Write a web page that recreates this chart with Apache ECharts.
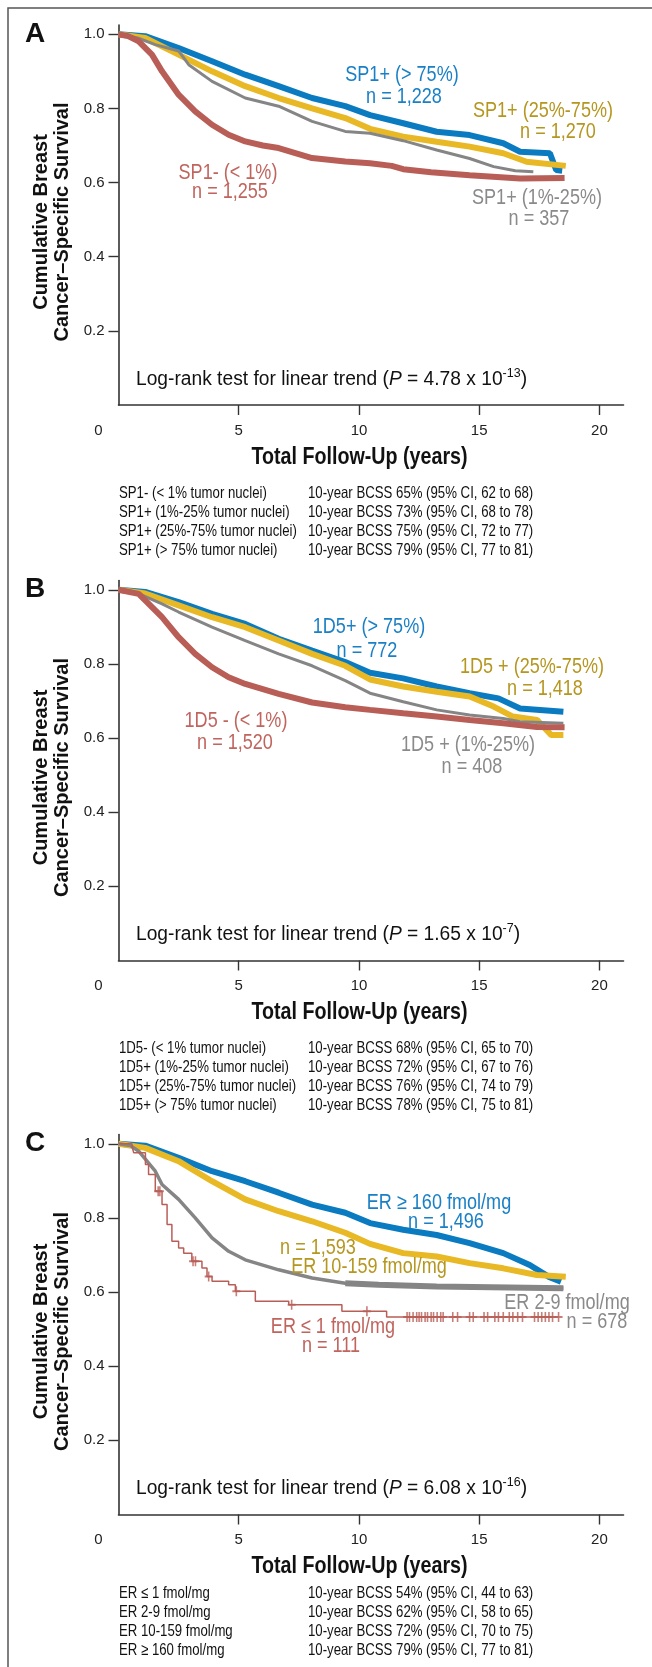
<!DOCTYPE html>
<html>
<head>
<meta charset="utf-8">
<script src="https://cdn.jsdelivr.net/npm/echarts@6/dist/echarts.min.js"></script>
<style>
  html, body { margin: 0; padding: 0; background: #fff; }
  #main { width: 652px; height: 1667px; }
</style>
</head>
<body>
<div id="main"></div>
<script>
// Kaplan-Meier curves: [years, cumulative survival]
// panel A - SP1
const spNeg = [[0, 1], [0.4, 0.995], [0.84, 0.981], [1.39, 0.945], [1.81, 0.9], [2.5, 0.837], [3.19, 0.792], [3.89, 0.756], [4.58, 0.729], [5.27, 0.711], [6.0, 0.7], [6.66, 0.693], [8.05, 0.666], [9.43, 0.657], [10.46, 0.652], [11.36, 0.645], [11.84, 0.636], [13.0, 0.628], [14.6, 0.62], [16.7, 0.611], [18.55, 0.612]]
const spLow = [[0, 1], [0.8, 0.99], [1.53, 0.972], [2.5, 0.955], [2.92, 0.918], [3.89, 0.873], [5.27, 0.828], [6.66, 0.806], [8.05, 0.765], [9.43, 0.738], [10.46, 0.733], [11.84, 0.713], [13.23, 0.688], [14.6, 0.665], [15.6, 0.643], [16.5, 0.632], [17.25, 0.629]]
const spMid = [[0, 1], [1.11, 0.99], [2.5, 0.945], [3.89, 0.9], [5.27, 0.86], [6.66, 0.828], [8.05, 0.8], [9.43, 0.774], [10.46, 0.745], [11.84, 0.724], [13.23, 0.71], [14.6, 0.697], [16.0, 0.679], [16.97, 0.656], [18.6, 0.645]]
const spHigh = [[0, 1], [1.11, 0.995], [2.5, 0.963], [3.89, 0.927], [5.27, 0.891], [6.66, 0.86], [8.05, 0.828], [9.43, 0.806], [10.46, 0.782], [11.84, 0.76], [13.23, 0.737], [14.6, 0.728], [16.0, 0.706], [16.7, 0.683], [17.94, 0.679], [18.2, 0.634], [18.45, 0.632]]
// panel B - 1D5
const d5Neg = [[0, 1], [0.84, 0.989], [1.81, 0.926], [2.5, 0.872], [3.19, 0.827], [3.89, 0.791], [4.58, 0.764], [5.27, 0.746], [6.66, 0.719], [8.05, 0.696], [9.43, 0.683], [10.46, 0.676], [11.84, 0.667], [13.23, 0.658], [14.6, 0.649], [16.0, 0.64], [17.4, 0.63], [18.55, 0.629]]
const d5Low = [[0, 1], [1.0, 0.985], [1.81, 0.962], [2.5, 0.94], [3.89, 0.899], [5.27, 0.863], [6.66, 0.827], [8.05, 0.795], [9.43, 0.755], [10.46, 0.721], [11.84, 0.698], [13.23, 0.676], [14.6, 0.662], [16.0, 0.653], [16.7, 0.644], [18.5, 0.64]]
const d5Mid = [[0, 1], [1.11, 0.99], [2.5, 0.958], [3.89, 0.926], [5.27, 0.899], [6.66, 0.863], [8.05, 0.827], [9.43, 0.795], [10.46, 0.758], [11.84, 0.739], [13.23, 0.725], [14.6, 0.712], [15.6, 0.685], [16.4, 0.658], [17.4, 0.649], [18.0, 0.608], [18.5, 0.608]]
const d5High = [[0, 1], [1.11, 0.994], [2.5, 0.967], [3.89, 0.935], [5.27, 0.908], [6.66, 0.868], [8.05, 0.836], [9.43, 0.805], [10.46, 0.776], [11.84, 0.761], [13.23, 0.739], [14.6, 0.721], [15.8, 0.707], [16.7, 0.68], [18.5, 0.671]]
// panel C - ER fmol/mg
const erNeg = [[0, 1], [0.56, 0.994], [0.63, 0.976], [1.12, 0.944], [1.25, 0.917], [1.53, 0.872], [1.81, 0.836], [2.02, 0.782], [2.22, 0.737], [2.5, 0.719], [2.71, 0.705], [3.05, 0.683], [3.47, 0.665], [3.68, 0.642], [3.89, 0.629], [4.58, 0.62], [4.86, 0.602], [5.69, 0.575], [7.08, 0.566], [9.29, 0.548], [11.15, 0.533], [18.3, 0.533]]
const erNegCensor = [[1.65, 0.872], [1.72, 0.872], [3.1, 0.683], [3.2, 0.683], [3.75, 0.642], [4.9, 0.602], [7.2, 0.566], [10.33, 0.548], [12.0, 0.533], [12.1, 0.533], [12.25, 0.533], [12.4, 0.533], [12.5, 0.533], [12.6, 0.533], [12.75, 0.533], [12.85, 0.533], [13.0, 0.533], [13.1, 0.533], [13.25, 0.533], [13.4, 0.533], [13.5, 0.533], [13.9, 0.533], [14.1, 0.533], [14.6, 0.533], [14.75, 0.533], [15.2, 0.533], [15.35, 0.533], [15.65, 0.533], [15.8, 0.533], [16.0, 0.533], [16.25, 0.533], [16.4, 0.533], [16.6, 0.533], [16.8, 0.533], [17.3, 0.533], [17.45, 0.533], [17.6, 0.533], [17.75, 0.533], [17.9, 0.533], [18.05, 0.533], [18.3, 0.533]]
const erLow = [[0, 1], [0.5, 0.995], [0.84, 0.98], [1.53, 0.926], [1.81, 0.89], [2.5, 0.85], [3.19, 0.8], [3.89, 0.746], [4.58, 0.71], [5.27, 0.687], [6.66, 0.66], [8.05, 0.638], [9.43, 0.624], [10.82, 0.62], [13.23, 0.615], [18.5, 0.61]]
const erMid = [[0, 1], [1.11, 0.989], [2.5, 0.953], [3.19, 0.926], [3.89, 0.899], [5.27, 0.85], [6.66, 0.818], [8.05, 0.791], [9.43, 0.76], [10.46, 0.73], [11.84, 0.705], [13.23, 0.696], [14.6, 0.678], [16.0, 0.664], [17.4, 0.646], [18.6, 0.641]]
const erHigh = [[0, 1], [1.11, 0.995], [2.5, 0.962], [3.89, 0.926], [5.27, 0.899], [6.66, 0.868], [8.05, 0.836], [9.43, 0.814], [10.46, 0.786], [11.84, 0.768], [13.23, 0.754], [14.6, 0.732], [16.0, 0.705], [17.1, 0.673], [17.9, 0.641], [18.4, 0.628]]

const yTicks = [0.2, 0.4, 0.6, 0.8, 1.0]
const xTicks = [5, 10, 15, 20]
const xLabels = [0, 5, 10, 15, 20]

const statsA = [
  ['SP1- (< 1% tumor nuclei)', '10-year BCSS 65% (95% CI, 62 to 68)'],
  ['SP1+ (1%-25% tumor nuclei)', '10-year BCSS 73% (95% CI, 68 to 78)'],
  ['SP1+ (25%-75% tumor nuclei)', '10-year BCSS 75% (95% CI, 72 to 77)'],
  ['SP1+ (> 75% tumor nuclei)', '10-year BCSS 79% (95% CI, 77 to 81)']
]
const statsB = [
  ['1D5- (< 1% tumor nuclei)', '10-year BCSS 68% (95% CI, 65 to 70)'],
  ['1D5+ (1%-25% tumor nuclei)', '10-year BCSS 72% (95% CI, 67 to 76)'],
  ['1D5+ (25%-75% tumor nuclei)', '10-year BCSS 76% (95% CI, 74 to 79)'],
  ['1D5+ (> 75% tumor nuclei)', '10-year BCSS 78% (95% CI, 75 to 81)']
]
const statsC = [
  ['ER ≤ 1 fmol/mg', '10-year BCSS 54% (95% CI, 44 to 63)'],
  ['ER 2-9 fmol/mg', '10-year BCSS 62% (95% CI, 58 to 65)'],
  ['ER 10-159 fmol/mg', '10-year BCSS 72% (95% CI, 70 to 75)'],
  ['ER ≥ 160 fmol/mg', '10-year BCSS 79% (95% CI, 77 to 81)']
]

const SANS = "'Liberation Sans', Arial, sans-serif"
const NARROW_X = 0.82 // squeeze Liberation Sans to look like the condensed face
const BLUE = '#0a7bc1'
const GOLD = '#e8b825'
const GREY = '#858585'
const RED = '#b85e57'
const TXT = { blue: '#1a80c6', gold: '#b5961f', grey: '#8a8a8a', red: '#c0645e' }

// grid tops (y = 1.025 at top so the axis line sticks out above 1.0)
const panels = [
  { top: 25, letter: 'A', p: '4.78 x 10', exp: '-13', stats: statsA, statTop: 493 },
  { top: 580.5, letter: 'B', p: '1.65 x 10', exp: '-7', stats: statsB, statTop: 1048 },
  { top: 1134.5, letter: 'C', p: '6.08 x 10', exp: '-16', stats: statsC, statTop: 1593 }
]
const GRID_H = 380
const axisY = (i) => panels[i].top + GRID_H

const grids = []
const xAxes = []
const yAxes = []
panels.forEach((pn, i) => {
  grids.push({ left: 118.5, top: pn.top, width: 505, height: GRID_H })
  xAxes.push({
    type: 'value',
    gridIndex: i,
    min: 0,
    max: 21,
    interval: 5,
    splitLine: { show: false },
    axisLine: { lineStyle: { color: '#333', width: 1.6 } },
    axisTick: { customValues: xTicks, length: 10, lineStyle: { color: '#333', width: 1.4 } },
    axisLabel: {
      customValues: xLabels,
      margin: 18,
      fontFamily: SANS,
      fontSize: 15,
      color: '#222',
      formatter: (v) => (v === 0 ? '{z|0}' : String(v)),
      rich: { z: { fontFamily: SANS, fontSize: 15, color: '#222', padding: [0, 40, 0, 0] } }
    }
  })
  yAxes.push({
    type: 'value',
    gridIndex: i,
    min: 0,
    max: 1.025,
    splitLine: { show: false },
    axisLine: { show: true, lineStyle: { color: '#333', width: 1.6 } },
    axisTick: { show: true, customValues: yTicks, length: 10, lineStyle: { color: '#333', width: 1.4 } },
    axisLabel: {
      customValues: yTicks,
      margin: 14,
      fontFamily: SANS,
      fontSize: 15,
      color: '#222',
      formatter: (v) => v.toFixed(1)
    },
    name: 'Cumulative Breast\nCancer–Specific Survival',
    nameLocation: 'middle',
    nameGap: 44,
    nameTextStyle: { fontFamily: SANS, fontWeight: 'bold', fontSize: 20, lineHeight: 21, color: '#111', padding: [0, 14, 0, 0] }
  })
})

function curve (i, data, color, width) {
  return {
    type: 'line',
    xAxisIndex: i,
    yAxisIndex: i,
    data: data,
    showSymbol: false,
    lineStyle: { color: color, width: width },
    silent: true
  }
}

// the ER 2-9 curve turns into a thick band of censor ticks after ~9 years
const erLowLate = erLow.filter((p) => p[0] >= 9.43)

const series = [
  curve(0, spHigh, BLUE, 6), curve(0, spMid, GOLD, 6), curve(0, spLow, GREY, 3), curve(0, spNeg, RED, 6),
  curve(1, d5High, BLUE, 6), curve(1, d5Mid, GOLD, 6), curve(1, d5Low, GREY, 3), curve(1, d5Neg, RED, 6),
  curve(2, erHigh, BLUE, 6), curve(2, erMid, GOLD, 6), curve(2, erLow, GREY, 3.5), curve(2, erLowLate, GREY, 6),
  Object.assign(curve(2, erNeg, RED, 1.5), { step: 'end' }),
  {
    type: 'scatter',
    xAxisIndex: 2,
    yAxisIndex: 2,
    data: erNegCensor,
    symbol: 'path://M4,0h2v4h4v2h-4v4h-2v-4h-4v-2h4z',
    symbolSize: [8, 10],
    itemStyle: { color: RED },
    silent: true
  }
]

// group labels on the curves
const groupLabels = [
  ['SP1+ (> 75%)', 402, 75, TXT.blue], ['n = 1,228', 404, 97, TXT.blue],
  ['SP1+ (25%-75%)', 543, 111, TXT.gold], ['n = 1,270', 558, 132, TXT.gold],
  ['SP1- (< 1%)', 228, 173, TXT.red], ['n = 1,255', 230, 192, TXT.red],
  ['SP1+ (1%-25%)', 537, 198, TXT.grey], ['n = 357', 539, 219, TXT.grey],
  ['1D5+ (> 75%)', 369, 627, TXT.blue], ['n = 772', 367, 651, TXT.blue],
  ['1D5 + (25%-75%)', 532, 667, TXT.gold], ['n = 1,418', 545, 689, TXT.gold],
  ['1D5 - (< 1%)', 236, 721, TXT.red], ['n = 1,520', 235, 743, TXT.red],
  ['1D5 + (1%-25%)', 468, 745, TXT.grey], ['n = 408', 472, 767, TXT.grey],
  ['ER ≥ 160 fmol/mg', 439, 1203, TXT.blue], ['n = 1,496', 446, 1222, TXT.blue],
  ['n = 1,593', 318, 1248, TXT.gold], ['ER 10-159 fmol/mg', 369, 1267, TXT.gold],
  ['ER ≤ 1 fmol/mg', 333, 1327, TXT.red], ['n = 111', 331, 1346, TXT.red],
  ['ER 2-9 fmol/mg', 567, 1303, TXT.grey], ['n = 678', 597, 1322, TXT.grey]
]

const graphic = [
  {
    type: 'rect',
    shape: { x: 8, y: 8, width: 700, height: 1700 },
    style: { fill: 'none', stroke: '#555', lineWidth: 1.5 },
    silent: true
  }
]
groupLabels.forEach(([t, x, y, c]) => {
  graphic.push({
    type: 'text', x: x, y: y, z: 10, scaleX: 0.84,
    style: { text: t, fill: c, font: '21.5px ' + SANS, align: 'center', verticalAlign: 'middle' }
  })
})
panels.forEach((pn, i) => {
  graphic.push({
    type: 'text', x: 35, y: pn.top + 9,
    style: { text: pn.letter, fill: '#111', font: 'bold 28px ' + SANS, align: 'center', verticalAlign: 'middle' }
  })
  graphic.push({
    type: 'text', x: 359.5, y: axisY(i) + 52, scaleX: NARROW_X,
    style: { text: 'Total Follow-Up (years)', fill: '#111', font: 'bold 24px ' + SANS, align: 'center', verticalAlign: 'middle' }
  })
  graphic.push({
    type: 'text', x: 136, y: axisY(i) - 26, scaleX: 0.96,
    style: {
      text: '{t|Log-rank test for linear trend (}{i|P}{t| = ' + pn.p + '}{s|' + pn.exp + '}{t|)}',
      verticalAlign: 'middle',
      rich: {
        t: { fontFamily: SANS, fontSize: 20, fill: '#111' },
        i: { fontFamily: SANS, fontSize: 20, fontStyle: 'italic', fill: '#111' },
        s: { fontFamily: SANS, fontSize: 13, fill: '#111', padding: [0, 0, 12, 0] }
      }
    }
  })
  pn.stats.forEach((row, k) => {
    const y = pn.statTop + k * 19
    graphic.push({ type: 'text', x: 119, y: y, scaleX: 0.8, style: { text: row[0], fill: '#111', font: '16.5px ' + SANS, verticalAlign: 'middle' } })
    graphic.push({ type: 'text', x: 308, y: y, scaleX: 0.8, style: { text: row[1], fill: '#111', font: '16.5px ' + SANS, verticalAlign: 'middle' } })
  })
})

const myChart = echarts.init(document.getElementById('main'), null, { renderer: 'canvas' })
myChart.setOption({
  animation: false,
  backgroundColor: '#fff',
  grid: grids,
  xAxis: xAxes,
  yAxis: yAxes,
  series: series,
  graphic: graphic
})
</script>
</body>
</html>
